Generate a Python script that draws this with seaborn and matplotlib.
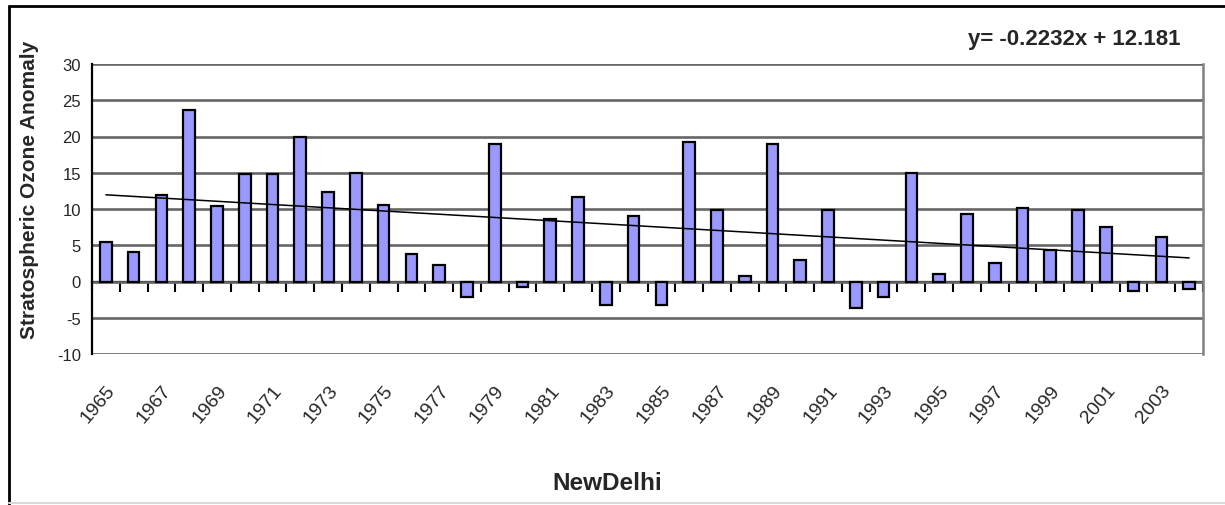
import matplotlib
matplotlib.use("Agg")
import matplotlib.pyplot as plt
from matplotlib.lines import Line2D
import numpy as np
import pandas as pd
import seaborn as sns

# Annual stratospheric ozone anomaly, New Delhi
years = list(range(1965, 2005))
anomaly = [5.4, 4.1, 11.9, 23.6, 10.4, 14.8, 14.8, 20.0, 12.3, 15.0,
           10.5, 3.8, 2.3, -2.2, 19.0, -0.7, 8.6, 11.7, -3.3, 9.0,
           -3.3, 19.3, 9.8, 0.7, 19.0, 3.0, 9.9, -3.6, -2.2, 15.0,
           1.1, 9.3, 2.6, 10.2, 4.4, 9.9, 7.5, -1.25, 6.2, -1.0]
# Linear trend, x = 1..N over the series index
slope = -0.2232
intercept = 12.181
yticks = [-10, -5, 0, 5, 10, 15, 20, 25, 30]

df = pd.DataFrame({"year": [str(y) for y in years], "anomaly": anomaly})

sns.set_style("white")
plt.rcParams["font.family"] = ["Liberation Sans", "DejaVu Sans"]

fig = plt.figure(figsize=(12.25, 5.06), dpi=100)
ax = fig.add_axes([92 / 1225, 1 - 355 / 506, (1203 - 92) / 1225, 290 / 506])

sns.barplot(data=df, x="year", y="anomaly", order=df["year"], color="#9999FF",
            saturation=1, edgecolor="black", linewidth=1.6, width=0.42, ax=ax)

idx = np.arange(len(years))
trend = slope * (idx + 1) + intercept
ax.plot(idx, trend, color="black", linewidth=1.1, zorder=4)

ax.set_xlim(-0.5, len(years) - 0.5)
ax.set_ylim(yticks[0], yticks[-1])
ax.set_yticks(yticks)
ax.set_yticklabels([str(t) for t in yticks], fontsize=12)
ax.tick_params(axis="y", direction="out", length=5, width=1.4, color="black", pad=3)

# horizontal gridlines
for t in yticks:
    ax.axhline(t, color="#666666", linewidth=1.9, zorder=0.5)

# year labels every other category, along the bottom
ax.set_xticks(idx[::2])
ax.set_xticklabels([str(y) for y in years[::2]], rotation=50, ha="right",
                   va="top", rotation_mode="anchor", fontsize=14)
ax.tick_params(axis="x", length=0, pad=20)
ax.set_xlabel("")
ax.set_ylabel("")

# category axis drawn at zero with ticks between categories
zero_frac = (0 - yticks[0]) / (yticks[-1] - yticks[0])
sec = ax.secondary_xaxis(zero_frac)
sec.set_xticks(np.arange(len(years) + 1) - 0.5)
sec.set_xticklabels([])
sec.tick_params(direction="out", length=7, width=1.5, color="black")
sec.spines["bottom"].set_color("black")
sec.spines["bottom"].set_linewidth(1.6)

for side in ["top", "bottom"]:
    ax.spines[side].set_visible(False)
ax.spines["left"].set_color("black")
ax.spines["left"].set_linewidth(1.6)
ax.spines["right"].set_color("#808080")
ax.spines["right"].set_linewidth(1.8)

fig.text(30 / 1225, 1 - 190 / 506, "Stratospheric Ozone Anomaly", rotation=90,
         ha="center", va="center", fontsize=15, fontweight="bold")
fig.text(607 / 1225, 1 - 484 / 506, "NewDelhi", ha="center", va="center",
         fontsize=17.5, fontweight="bold")
fig.text(968 / 1225, 1 - 40 / 506, f"y= {slope}x + {intercept}", ha="left",
         va="center", fontsize=16, fontweight="bold")

# chart-area border
fig.add_artist(Line2D([9 / 1225, 9 / 1225], [0, 1 - 7 / 506],
                      transform=fig.transFigure, color="black", linewidth=2))
fig.add_artist(Line2D([9 / 1225, 1], [1 - 7 / 506, 1 - 7 / 506],
                      transform=fig.transFigure, color="black", linewidth=2))
fig.add_artist(Line2D([9 / 1225, 1], [1 - 504 / 506, 1 - 504 / 506],
                      transform=fig.transFigure, color="#d9d9d9", linewidth=1.5))

fig.savefig("out.png", dpi=100)
